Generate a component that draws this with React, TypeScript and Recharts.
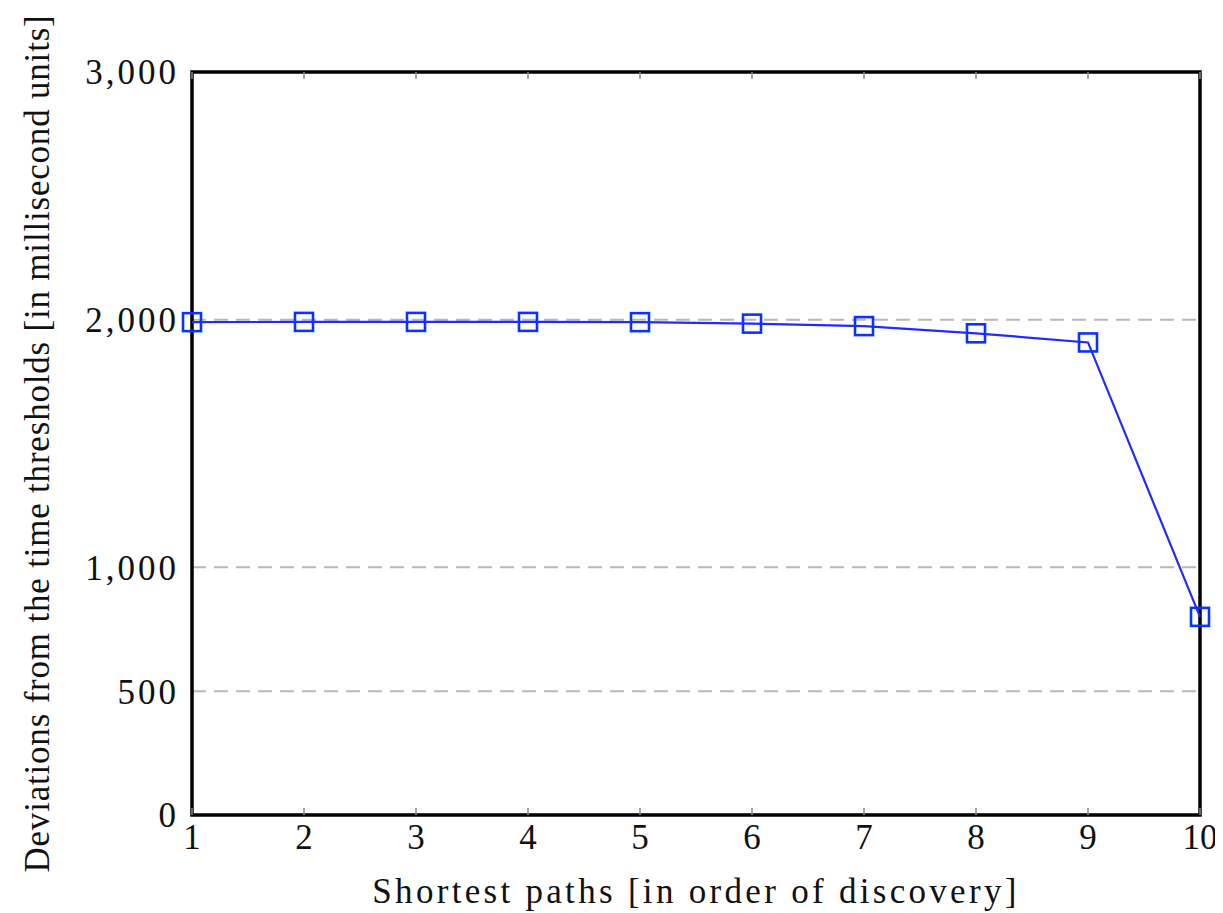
import React from 'react';
import { LineChart, Line, XAxis, YAxis, CartesianGrid, ReferenceArea } from 'recharts';

const pathIndex = [1, 2, 3, 4, 5, 6, 7, 8, 9, 10];
const deviations = [1990, 1991, 1991, 1991, 1990, 1984, 1974, 1945, 1908, 800];
const xTicks = [1, 2, 3, 4, 5, 6, 7, 8, 9, 10];
const yTicks = [0, 500, 1000, 2000, 3000];

const data = pathIndex.map((x, i) => ({ x, y: deviations[i] }));

const FONT = '"Liberation Serif", "DejaVu Serif", serif';
const xTickStyle = { fontFamily: FONT, fontSize: 35, fill: '#111' };
const yTickStyle = { fontFamily: FONT, fontSize: 35, fill: '#111', letterSpacing: 3 };

const fmt = (v: number) => v.toLocaleString('en-US');

const SquareDot = (props: any) => {
  const { cx, cy } = props;
  if (cx == null || cy == null) return null;
  return <rect x={cx - 9} y={cy - 9} width={18} height={18} fill="none" stroke="#0a33ff" strokeWidth={2.6} />;
};

const noTick = () => <g />;

export default function App() {
  return (
    <LineChart width={1215} height={905} data={data} margin={{ top: 64, right: 23, bottom: 0, left: 0 }}>
      <CartesianGrid horizontal vertical={false} stroke="#b8b8b8" strokeWidth={2} strokeDasharray="14 8" />
      <XAxis
        dataKey="x"
        type="number"
        domain={[1, 10]}
        ticks={xTicks}
        interval={0}
        height={98}
        axisLine={false}
        tickLine={false}
        tickSize={0}
        tickMargin={9}
        tick={xTickStyle}
        label={{ value: 'Shortest paths [in order of discovery]', position: 'insideBottom', offset: 10, style: { fontFamily: FONT, fontSize: 35, fill: '#111', letterSpacing: 3.3 } }}
      />
      <YAxis
        type="number"
        domain={[0, 3000]}
        ticks={yTicks}
        interval={0}
        width={184}
        axisLine={false}
        tickLine={false}
        tickSize={0}
        tickMargin={13}
        tickFormatter={fmt}
        tick={yTickStyle}
        label={{ value: 'Deviations from the time thresholds [in millisecond units]', angle: -90, position: 'insideLeft', offset: 29, style: { textAnchor: 'middle', fontFamily: FONT, fontSize: 35, fill: '#111', letterSpacing: 0.8 } }}
      />
      <XAxis xAxisId="tb" type="number" dataKey="x" domain={[1, 10]} ticks={xTicks} interval={0} orientation="bottom" mirror axisLine={false} tick={noTick} tickLine={{ stroke: '#8a8a8a', strokeWidth: 1.5 }} tickSize={7} />
      <XAxis xAxisId="tt" type="number" dataKey="x" domain={[1, 10]} ticks={xTicks} interval={0} orientation="top" mirror axisLine={false} tick={noTick} tickLine={{ stroke: '#8a8a8a', strokeWidth: 1.5 }} tickSize={7} />
      <YAxis yAxisId="tl" type="number" domain={[0, 3000]} ticks={yTicks} interval={0} orientation="left" mirror axisLine={false} tick={noTick} tickLine={{ stroke: '#8a8a8a', strokeWidth: 1.5 }} tickSize={7} />
      <YAxis yAxisId="tr" type="number" domain={[0, 3000]} ticks={yTicks} interval={0} orientation="right" mirror axisLine={false} tick={noTick} tickLine={{ stroke: '#8a8a8a', strokeWidth: 1.5 }} tickSize={7} />
      <ReferenceArea x1={1} x2={10} y1={0} y2={3000} fill="none" fillOpacity={0} stroke="#000" strokeWidth={3.5} ifOverflow="visible" />
      <Line
        type="linear"
        dataKey="y"
        stroke="#1f2bff"
        strokeWidth={2.2}
        dot={<SquareDot />}
        activeDot={false}
        isAnimationActive={false}
      />
    </LineChart>
  );
}
